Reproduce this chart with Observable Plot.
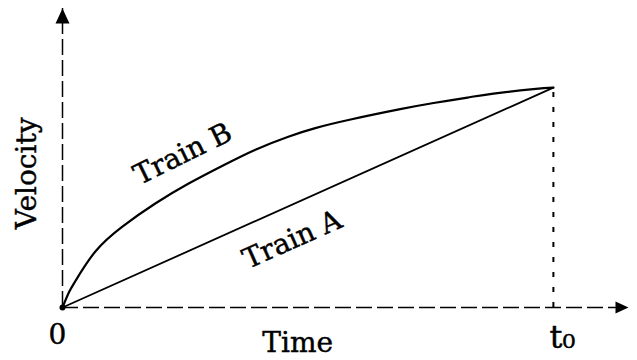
<!DOCTYPE html>
<html>
<head>
<meta charset="utf-8">
<script src="https://cdn.jsdelivr.net/npm/d3@7"></script>
<script src="https://cdn.jsdelivr.net/npm/@observablehq/plot@0.6"></script>
<style>
  html, body { margin: 0; padding: 0; background: #fff; }
  #chart svg text { stroke: #000; stroke-width: 0.45px; paint-order: stroke; }
</style>
</head>
<body>
<div id="chart"></div>
<script>
// ---- Data (time in units of t0, velocity in units of final velocity) ----
const trainBTime     = [0, 0.012, 0.027, 0.067, 0.122, 0.189, 0.257, 0.326, 0.393, 0.460, 0.515, 0.587, 0.688, 0.756, 0.825, 0.878, 0.959, 1];
const trainBVelocity = [0, 0.064, 0.123, 0.255, 0.368, 0.473, 0.564, 0.645, 0.718, 0.777, 0.816, 0.855, 0.902, 0.930, 0.955, 0.973, 0.993, 1];
const trainATime     = [0, 1];
const trainAVelocity = [0, 1];
const t0 = 1;
const finalVelocity = 1;
const xTickValues = [0, t0];
const xTickLabels = ["0", "t\u2080"];
const timeMax = 1.153;
const velocityMax = 1.36;
const seriesNames = ["Train A", "Train B"];
const labelTimes = [0.468, 0.245];   // where each series label sits along its curve

// ---- Build tables ----
const trainB = trainBTime.map((t, i) => ({time: t, velocity: trainBVelocity[i]}));
const trainA = trainATime.map((t, i) => ({time: t, velocity: trainAVelocity[i]}));
const interp = (ts, vs, t) => {
  for (let i = 1; i < ts.length; i++) if (t <= ts[i]) {
    const f = (t - ts[i-1]) / (ts[i] - ts[i-1]);
    return vs[i-1] + f * (vs[i] - vs[i-1]);
  }
  return vs[vs.length - 1];
};
const labelA = [{time: labelTimes[0], velocity: interp(trainATime, trainAVelocity, labelTimes[0]), name: seriesNames[0]}];
const labelB = [{time: labelTimes[1], velocity: interp(trainBTime, trainBVelocity, labelTimes[1]), name: seriesNames[1]}];

const upArrow = {draw(ctx) { ctx.moveTo(0, 0); ctx.lineTo(-7, 15); ctx.lineTo(7, 15); ctx.closePath(); }};
const rightArrow = {draw(ctx) { ctx.moveTo(0, 0); ctx.lineTo(-13, -6); ctx.lineTo(-13, 6); ctx.closePath(); }};

const font = "DejaVu Serif";

const chart = Plot.plot({
  width: 637,
  height: 360,
  marginLeft: 62,
  marginRight: 9,
  marginTop: 8,
  marginBottom: 53,
  style: {fontFamily: font, fontSize: "28px", background: "#fff", color: "#000"},
  x: {domain: [0, timeMax], axis: null, label: null},
  y: {domain: [0, velocityMax], axis: null, label: null},
  marks: [
    // axes lines (dashed) with arrowheads
    Plot.ruleX([0], {y1: 0, y2: velocityMax, stroke: "#000", strokeWidth: 1.5, strokeDasharray: "16,5"}),
    Plot.ruleY([0], {x1: 0, x2: timeMax, stroke: "#000", strokeWidth: 1.5, strokeDasharray: "16,5"}),
    Plot.dot([{time: 0, velocity: velocityMax}], {x: "time", y: "velocity", symbol: upArrow, fill: "#000", stroke: "none"}),
    Plot.dot([{time: timeMax, velocity: 0}], {x: "time", y: "velocity", symbol: rightArrow, fill: "#000", stroke: "none"}),
    // drop line at t0
    Plot.ruleX([t0], {y1: 0, y2: finalVelocity, stroke: "#000", strokeWidth: 2, strokeDasharray: "5,10"}),
    // series
    Plot.line(trainA, {x: "time", y: "velocity", stroke: "#000", strokeWidth: 1.8}),
    Plot.line(trainB, {x: "time", y: "velocity", stroke: "#000", strokeWidth: 2.2, curve: "natural"}),
    Plot.dot([{time: 0, velocity: 0}], {x: "time", y: "velocity", r: 3, fill: "#000", stroke: "none"}),
    // series labels
    Plot.text(labelB, {x: "time", y: "velocity", text: "name", rotate: -26, dy: -33, fontSize: 28, fill: "#000", textAnchor: "middle", lineAnchor: "middle"}),
    Plot.text(labelA, {x: "time", y: "velocity", text: "name", rotate: -24, dy: 35, fontSize: 28, fill: "#000", textAnchor: "middle", lineAnchor: "middle"}),
    // x tick labels
    Plot.axisX({ticks: [xTickValues[0]], tickFormat: () => xTickLabels[0], tickSize: 0, tickPadding: 17, dx: -5, fontSize: 28, label: null}),
    Plot.axisX({ticks: [xTickValues[1]], tickFormat: () => xTickLabels[1], tickSize: 0, tickPadding: 18, dx: 9, fontSize: 32, label: null}),
    // axis titles
    Plot.text(["Time"], {x: 0.479, frameAnchor: "bottom", dy: 36, fontSize: 28, fill: "#000", textAnchor: "middle", lineAnchor: "middle"}),
    Plot.text(["Velocity"], {frameAnchor: "left", y: 0.61, dx: -35, rotate: -90, fontSize: 28, fill: "#000", textAnchor: "middle", lineAnchor: "middle"})
  ]
});
document.getElementById("chart").appendChild(chart);
</script>
</body>
</html>
